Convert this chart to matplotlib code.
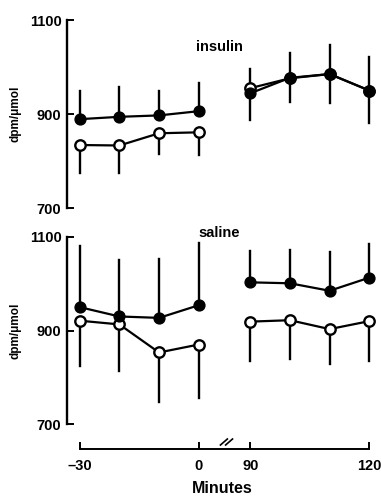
import numpy as np
import matplotlib.pyplot as plt

plt.rcParams['font.family'] = ['Liberation Sans', 'DejaVu Sans']
plt.rcParams['font.weight'] = 'bold'

# minutes, before and after the break
t_pre = [-30, -20, -10, 0]
t_post = [90, 100, 110, 120]

# insulin panel
ins_filled = [889, 894, 897, 906, 944, 977, 985, 950]
ins_filled_up = [950, 958, 948, 965, 995, 1029, 1047, 1022]
ins_open = [834, 833, 859, 861, 955, 976, 985, 950]
ins_open_lo = [774, 774, 814, 813, 887, 926, 923, 880]

# saline panel
sal_filled = [950, 930, 927, 954, 1003, 1001, 985, 1013]
sal_filled_up = [1081, 1051, 1052, 1087, 1071, 1072, 1067, 1085]
sal_open = [921, 913, 853, 870, 919, 922, 903, 920]
sal_open_lo = [824, 814, 746, 755, 835, 839, 829, 835]

xticks = [-30, 0, 90, 120]
xticklabels = ['\u201330', '0', '90', '120']
yticks = [700, 900, 1100]


def fwd(x):
    x = np.asarray(x, dtype=float)
    return np.where(x <= 0, x, np.where(x < 90, x * 13 / 90, x - 77))


def inv(y):
    y = np.asarray(y, dtype=float)
    return np.where(y <= 0, y, np.where(y < 13, y * 90 / 13, y + 77))


def draw_panel(ax, filled, filled_up, opn, opn_lo):
    ax.set_xscale('function', functions=(fwd, inv))
    times = t_pre + t_post
    for t, v, u in zip(times, filled, filled_up):
        ax.plot([t, t], [v, u], color='black', lw=1.7, clip_on=False, zorder=1)
    for t, v, lo in zip(times, opn, opn_lo):
        ax.plot([t, t], [v, lo], color='black', lw=1.7, clip_on=False, zorder=1)
    for seg in (slice(0, 4), slice(4, 8)):
        ax.plot(times[seg], opn[seg], '-o', color='black', lw=1.6, ms=7.5,
                mfc='white', mec='black', mew=1.7, clip_on=False, zorder=2)
        ax.plot(times[seg], filled[seg], '-o', color='black', lw=1.6, ms=7.8,
                mfc='black', mec='black', clip_on=False, zorder=3)
    ax.set_xlim(-33.2, 122.2)
    ax.set_ylim(700, 1100)
    ax.set_yticks(yticks)
    ax.tick_params(axis='y', direction='in', length=5, width=1.4, labelsize=10.5, pad=4)
    ax.spines['left'].set_linewidth(1.7)
    for s in ('top', 'right'):
        ax.spines[s].set_visible(False)
    ax.set_ylabel('dpm/\u03bcmol', fontsize=8.5, fontweight='bold', labelpad=6)


fig = plt.figure(figsize=(3.81, 4.99), dpi=100)
H = 499.0
ax1 = fig.add_axes([67 / 381, 1 - 208 / H, 311 / 381, 188 / H])
ax2 = fig.add_axes([67 / 381, 1 - 424 / H, 311 / 381, 187 / H])

draw_panel(ax1, ins_filled, ins_filled_up, ins_open, ins_open_lo)
ax1.text(36, 1043, 'insulin', ha='center', va='center', fontsize=10.5, fontweight='bold')
ax1.spines['bottom'].set_visible(False)
ax1.set_xticks([])

draw_panel(ax2, sal_filled, sal_filled_up, sal_open, sal_open_lo)
ax2.text(36, 1108, 'saline', ha='center', va='center', fontsize=10.5, fontweight='bold')
ax2.spines['bottom'].set_position(('outward', 18))
ax2.spines['bottom'].set_bounds(-30, 120)
ax2.spines['bottom'].set_linewidth(1.4)
ax2.set_xticks(xticks)
ax2.set_xticklabels(xticklabels)
ax2.tick_params(axis='x', direction='in', length=5, width=1.4, labelsize=10.5, pad=7)
ax2.set_xlabel('Minutes', fontsize=11.5, fontweight='bold', labelpad=6)

# break marks on the x axis
yb = -18 / 187
tr = ax2.get_xaxis_transform()
for xm in (44, 53):
    ax2.plot([xm - 6, xm + 6], [yb - 0.016, yb + 0.016], color='black', lw=1.2,
             transform=tr, clip_on=False)

fig.savefig('out.png', dpi=100)
